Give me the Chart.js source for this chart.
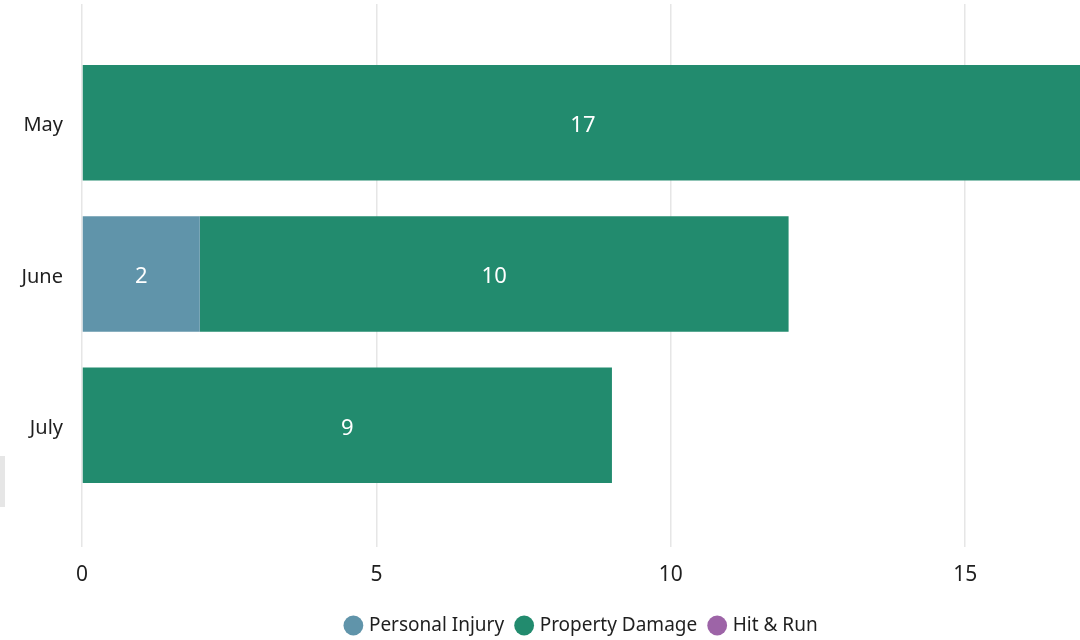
<!DOCTYPE html>
<html>
<head>
<meta charset="utf-8">
<script src="https://cdn.jsdelivr.net/npm/chart.js@4"></script>
<style>
  html, body { margin:0; padding:0; background:#fff; overflow:hidden; }
  #wrap { position:relative; width:1080px; height:640px; overflow:hidden; }
  #side { position:absolute; left:0; top:456px; width:5px; height:51px; background:#e6e6e6; }
</style>
</head>
<body>
<div id="wrap">
  <canvas id="chart" width="1083" height="645"></canvas>
  <div id="side"></div>
</div>
<script>
// ===== Data =====
const months = ["May", "June", "July"];
const personalInjury = [0, 2, 0];
const propertyDamage = [17, 10, 9];
const hitAndRun = [0, 0, 0];
const xTicks = [0, 5, 10, 15];

const FONT = "'Segoe UI', 'Noto Sans', 'Open Sans', sans-serif";

// white value labels in the middle of each bar
const barLabels = {
    id: "barLabels",
    afterDatasetsDraw(chart){
        const c = chart.ctx;
        c.save();
        c.font = "22px " + FONT;
        c.fillStyle = "#ffffff";
        c.textAlign = "center";
        c.textBaseline = "middle";
        chart.data.datasets.forEach((ds, i) => {
            const meta = chart.getDatasetMeta(i);
            if(meta.hidden) return;
            meta.data.forEach((bar, j) => {
                const v = ds.data[j];
                if(!v) return;
                const p = bar.getProps(["x", "y", "base"], true);
                c.fillText(String(v), (p.x + p.base) / 2, p.y + 3);
            });
        });
        c.restore();
    }
};

const tickOpts = {
    min: 0, max: 17,
    afterBuildTicks: s => { s.ticks = xTicks.map(v => ({ value: v })); }
};

new Chart(document.getElementById("chart").getContext("2d"), {
    type: "bar",
    data: {
        labels: months,
        datasets: [
            { label: "Personal Injury", data: personalInjury, backgroundColor: "#6094aa" },
            { label: "Property Damage", data: propertyDamage, backgroundColor: "#228b6e" },
            { label: "Hit & Run", data: hitAndRun, backgroundColor: "#9d64a7" }
        ]
    },
    options: {
        indexAxis: "y",
        responsive: false,
        animation: false,
        categoryPercentage: 1,
        barPercentage: 0.763,
        layout: { padding: { top: 4, left: 0, right: 0, bottom: 0 } },
        scales: {
            x: {
                stacked: true,
                ...tickOpts,
                position: "bottom",
                grid: { color: "#e6e6e6", lineWidth: 1.5, tickLength: 46, drawTicks: true },
                border: { display: false },
                ticks: { padding: 15, color: "#1f1f1f", font: { family: FONT, size: 21 } },
                afterFit: s => { s.height = 101; }
            },
            x2: {
                type: "linear",
                ...tickOpts,
                position: "top",
                grid: { color: "#e6e6e6", lineWidth: 1.5, tickLength: 43, drawTicks: true, drawOnChartArea: false },
                border: { display: false },
                ticks: { display: false }
            },
            y: {
                stacked: true,
                grid: { display: false, drawTicks: false },
                border: { display: false },
                ticks: { padding: 19, labelOffset: 3, color: "#1f1f1f", font: { family: FONT, size: 20 } },
                afterFit: s => { s.width = 82; }
            }
        },
        plugins: {
            legend: {
                position: "bottom",
                fullSize: false,
                labels: {
                    usePointStyle: true,
                    pointStyle: "circle",
                    boxWidth: 12,
                    boxHeight: 14,
                    padding: 14,
                    color: "#1f1f1f",
                    font: { family: FONT, size: 19 }
                }
            },
            tooltip: { enabled: false }
        }
    },
    plugins: [barLabels]
});
</script>
</body>
</html>
